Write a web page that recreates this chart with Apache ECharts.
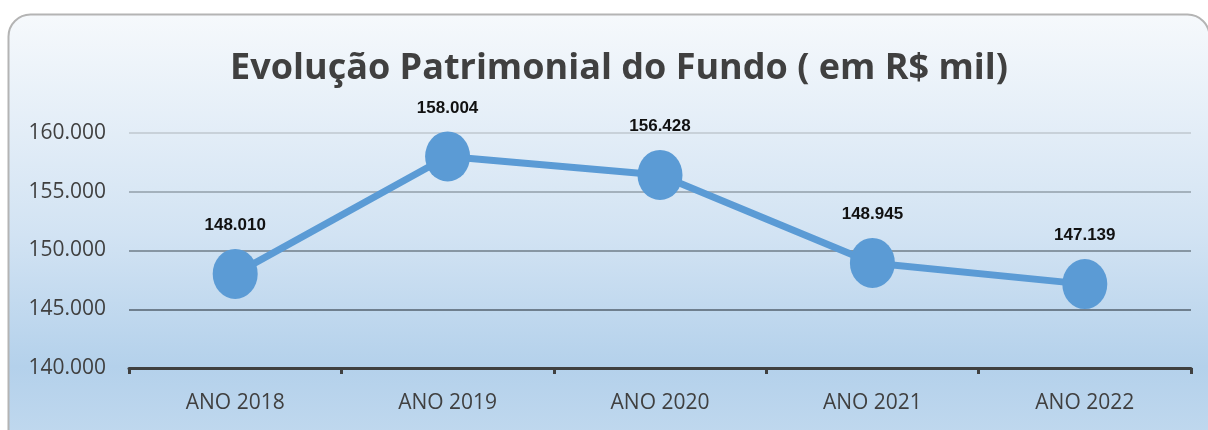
<!DOCTYPE html>
<html>
<head>
<meta charset="utf-8">
<script src="https://cdn.jsdelivr.net/npm/echarts@6/dist/echarts.min.js"></script>
<style>
  html, body { margin: 0; padding: 0; background: #fff; }
  #chart { width: 1208px; height: 430px; }
</style>
</head>
<body>
<div id="chart"></div>
<script>
// dados do gráfico
var categories = ['ANO 2018', 'ANO 2019', 'ANO 2020', 'ANO 2021', 'ANO 2022'];
var patrimonio = [148010, 158004, 156428, 148945, 147139];
var yTicks = [140000, 145000, 150000, 155000, 160000];

function fmt(v) {
  // separador de milhar com ponto
  return String(v).replace(/\B(?=(\d{3})+(?!\d))/g, '.');
}

var chart = echarts.init(document.getElementById('chart'));

chart.setOption({
  animation: false,
  graphic: [
    {
      type: 'rect',
      z: -10,
      shape: { x: 8.5, y: 14.5, width: 1201, height: 440, r: 22 },
      style: {
        fill: {
          type: 'linear', x: 0, y: 0, x2: 0, y2: 1,
          colorStops: [
            { offset: 0, color: '#f6f9fc' },
            { offset: 0.5, color: '#d2e3f3' },
            { offset: 0.8, color: '#b4d1eb' },
            { offset: 1, color: '#c3daef' }
          ]
        },
        stroke: '#b4b4b4',
        lineWidth: 2
      }
    }
  ],
  title: {
    text: 'Evolução Patrimonial do Fundo ( em R$ mil)',
    left: 614,
    textAlign: 'center',
    top: 46,
    textStyle: {
      fontFamily: 'Open Sans',
      fontWeight: 'bold',
      fontSize: 36,
      color: '#404040'
    }
  },
  grid: {
    left: 129,
    right: 17,
    top: 133,
    bottom: 62
  },
  xAxis: {
    type: 'category',
    data: categories,
    boundaryGap: true,
    axisLine: { lineStyle: { color: '#404040', width: 3 } },
    axisTick: { show: true, length: 6, lineStyle: { color: '#404040', width: 3 } },
    axisLabel: {
      margin: 25,
      fontFamily: 'Open Sans',
      fontSize: 21,
      color: '#404040'
    }
  },
  yAxis: {
    type: 'value',
    min: yTicks[0],
    max: yTicks[yTicks.length - 1],
    interval: 5000,
    axisLine: { show: false },
    axisTick: { show: false },
    axisLabel: {
      margin: 23,
      fontFamily: 'Open Sans',
      fontSize: 21,
      color: '#404040',
      formatter: function (v) { return fmt(v); }
    },
    splitLine: {
      lineStyle: {
        color: ['#404040', '#6f7f8e', '#8796a3', '#a4b1bc', '#c8d1d9'],
        width: 2
      }
    }
  },
  series: [
    {
      type: 'line',
      data: patrimonio,
      symbol: 'circle',
      symbolSize: [45, 50],
      lineStyle: { color: '#5b9bd5', width: 7 },
      itemStyle: { color: '#5b9bd5' },
      label: {
        show: true,
        position: 'top',
        distance: 15,
        fontFamily: 'Liberation Sans Narrow, Liberation Sans',
        fontWeight: 'bold',
        fontSize: 17,
        color: '#111',
        formatter: function (p) { return fmt(p.value); }
      }
    }
  ]
});
</script>
</body>
</html>
